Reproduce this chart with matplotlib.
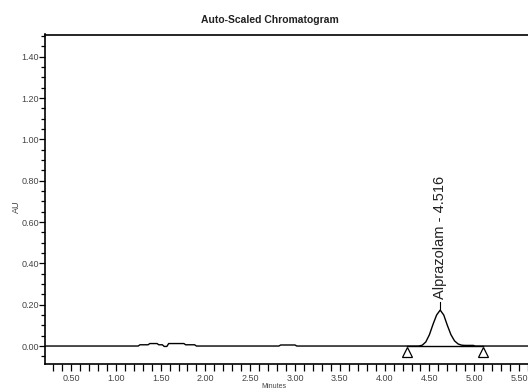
import matplotlib
matplotlib.use("Agg")
import matplotlib.pyplot as plt
from matplotlib.ticker import MultipleLocator, FormatStrFormatter

tempo = [0.21, 1.25, 1.27, 1.36, 1.38, 1.46, 1.48, 1.52, 1.54, 1.57, 1.59, 1.76, 1.78, 1.88, 1.90,
         2.82, 2.84, 3.00, 3.02,
         4.38, 4.42, 4.46, 4.50, 4.54, 4.58, 4.62, 4.66, 4.70, 4.74, 4.78, 4.82, 4.86, 4.90, 4.99, 5.01, 5.60]
au = [0.0, 0.0, 0.006, 0.006, 0.012, 0.012, 0.006, 0.006, -0.002, -0.002, 0.012, 0.012, 0.006, 0.006, 0.0,
      0.0, 0.005, 0.005, 0.0,
      0.0, 0.004, 0.020, 0.055, 0.105, 0.150, 0.174, 0.150, 0.100, 0.055, 0.025, 0.010, 0.004, 0.003, 0.003, 0.0, 0.0]

picco_tempo = 4.62
picco_au = 0.174
picco_nome = "Alprazolam - 4.516"

linea_base = [4.25, 5.10]

x_ticks = [0.50, 1.00, 1.50, 2.00, 2.50, 3.00, 3.50, 4.00, 4.50, 5.00, 5.50]
y_ticks = [0.00, 0.20, 0.40, 0.60, 0.80, 1.00, 1.20, 1.40]

plt.rcParams['font.family'] = ['Liberation Sans Narrow', 'Liberation Sans', 'DejaVu Sans']

fig = plt.figure(figsize=(5.28, 3.89), dpi=100)
ax = fig.add_axes([45 / 528, 25 / 389, 483 / 528, 329.5 / 389])

ax.plot(tempo, au, color="black", lw=1.0)
ax.plot([linea_base[0], linea_base[1]], [0, 0], color="black", lw=1.0)
ax.plot(linea_base, [-0.028, -0.028], ls="none", marker="^", markersize=7,
        markerfacecolor="white", markeredgecolor="black", markeredgewidth=0.9)

# etichetta del picco
ax.plot([picco_tempo, picco_tempo], [picco_au, picco_au + 0.04], color="black", lw=0.8)
ax.text(picco_tempo, picco_au + 0.055, picco_nome, rotation=90, ha="center", va="bottom",
        fontsize=10.5, family=['Liberation Sans', 'DejaVu Sans'], color="#222222")

ax.set_xlim(0.21, 5.60)
ax.set_ylim(-0.087, 1.508)

ax.set_xticks(x_ticks)
ax.set_yticks(y_ticks)
ax.xaxis.set_minor_locator(MultipleLocator(0.1))
ax.yaxis.set_minor_locator(MultipleLocator(0.05))
ax.xaxis.set_major_formatter(FormatStrFormatter("%.2f"))
ax.yaxis.set_major_formatter(FormatStrFormatter("%.2f"))

ax.tick_params(axis="x", which="both", direction="out", length=5, width=0.9, pad=2,
               labelsize=6.5, labelcolor="#444444")
ax.tick_params(axis="y", which="major", direction="out", length=4, width=0.9, pad=0.5,
               labelsize=6.5, labelcolor="#444444")
ax.tick_params(axis="y", which="minor", direction="out", length=3, width=0.9)

for s in ax.spines.values():
    s.set_linewidth(1.2)
ax.spines["right"].set_visible(False)

ax.set_ylabel("AU", fontsize=6.5, color="#444444")
ax.set_xlabel("Minutes", fontsize=5, color="#444444")
ax.xaxis.set_label_coords((274 - 45) / 483, -0.058)
ax.yaxis.set_label_coords(-0.05, 0.476)

fig.text(270 / 528, 1 - 20 / 389, "Auto-Scaled Chromatogram", ha="center", va="center",
         fontsize=7.5, fontweight="bold", color="#222222")

fig.savefig("out.png", dpi=100)
